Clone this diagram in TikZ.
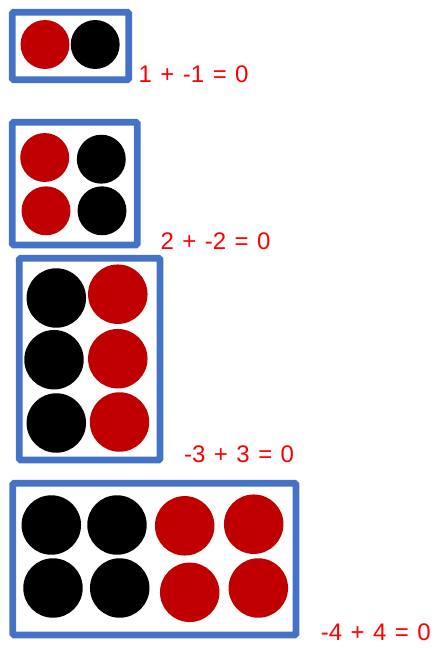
\documentclass[tikz,border=0pt]{standalone}
\usepackage{fontspec}
\setmainfont{Liberation Sans}[WordSpace=1.27]
\definecolor{boxblue}{HTML}{4472C4}
\definecolor{chipred}{HTML}{C00000}
\definecolor{eqred}{HTML}{FF0000}
\begin{document}
\begin{tikzpicture}[x=0.75pt,y=-0.75pt,
  frame/.style={draw=boxblue,line width=5pt,rounded corners=1pt},
  chip/.style={circle,inner sep=0pt,outer sep=0pt,draw=none},
  smallchip/.style={chip,minimum size=36.7pt},
  bigchip/.style={chip,minimum size=44.6pt},
  redchip/.style={fill=chipred},
  blackchip/.style={fill=black},
  eq/.style={anchor=base west,inner sep=0pt,text=eqred,font=\fontsize{18}{21.6}\selectfont}]
\useasboundingbox (0,0) rectangle (436,648);
% box 1
\draw[frame] (12.3,12.3) rectangle (128.7,79.7);
\node[smallchip,redchip] (a1) at (45,44.5) {};
\node[smallchip,blackchip] (a2) at (95.2,44.5) {};
\node[eq] (e1) at (138.4,83) {1 + -1 = 0};
% box 2
\draw[frame] (12.3,122.3) rectangle (137.3,245);
\node[smallchip,redchip] (b1) at (44.7,157.5) {};
\node[smallchip,blackchip] (b2) at (101.3,159.2) {};
\node[smallchip,redchip] (b3) at (46,210.8) {};
\node[smallchip,blackchip] (b4) at (102,210.8) {};
\node[eq] (e2) at (160.3,249.5) {2 + -2 = 0};
% box 3
\draw[frame] (19.3,258.3) rectangle (160,460);
\node[bigchip,blackchip] (c1) at (56.3,298) {};
\node[bigchip,redchip] (c2) at (117.8,294.2) {};
\node[bigchip,blackchip] (c3) at (54,359.7) {};
\node[bigchip,redchip] (c4) at (117.8,358.7) {};
\node[bigchip,blackchip] (c5) at (56.3,423) {};
\node[bigchip,redchip] (c6) at (119.5,422) {};
\node[eq] (e3) at (183.9,462) {-3 + 3 = 0};
% box 4
\draw[frame] (12.7,483.3) rectangle (296,635);
\node[bigchip,blackchip] (d1) at (51.3,525) {};
\node[bigchip,blackchip] (d2) at (117,525) {};
\node[bigchip,redchip] (d3) at (184.7,525.8) {};
\node[bigchip,redchip] (d4) at (253.7,524.2) {};
\node[bigchip,blackchip] (d5) at (53,588) {};
\node[bigchip,blackchip] (d6) at (119.7,588) {};
\node[bigchip,redchip] (d7) at (189.7,592.3) {};
\node[bigchip,redchip] (d8) at (258.3,588) {};
\node[eq] (e4) at (320.6,640) {-4 + 4 = 0};
\end{tikzpicture}
\end{document}
